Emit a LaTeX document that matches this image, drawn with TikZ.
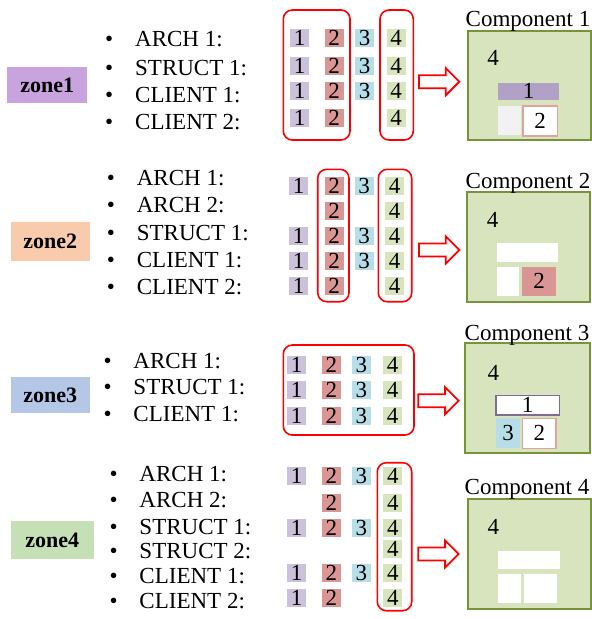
\documentclass[tikz,border=0pt]{standalone}
\usepackage{fontspec}
\setmainfont{Liberation Serif}
\usetikzlibrary{fit}

\definecolor{cA}{HTML}{CCC1DA}
\definecolor{cB}{HTML}{D99694}
\definecolor{cC}{HTML}{B7DEE8}
\definecolor{cD}{HTML}{D7E4BD}
\definecolor{compline}{HTML}{77933C}
\definecolor{barA}{HTML}{B2A1C7}
\definecolor{greybox}{HTML}{F2F2F2}
\definecolor{pinkline}{HTML}{E0A3A1}
\definecolor{purpline}{HTML}{7F6A9B}
\definecolor{zA}{HTML}{C9A3DE}
\definecolor{zB}{HTML}{F8CBAD}
\definecolor{zC}{HTML}{B4C7E7}
\definecolor{zD}{HTML}{C5E0B4}

\begin{document}
\begin{tikzpicture}[x=1pt,y=-1pt,
  base/.style={font=\fontsize{23}{27}\selectfont, inner sep=0pt},
  cellbase/.style={base, minimum width=19pt, minimum height=18pt},
  cell1/.style={cellbase, fill=cA},
  cell2/.style={cellbase, fill=cB},
  cell3/.style={cellbase, fill=cC},
  cell4/.style={cellbase, fill=cD},
  zonebox/.style={inner sep=0pt},
  zonelab/.style={font=\fontsize{22}{25}\selectfont\bfseries, inner sep=0pt},
  itemline/.style={base, anchor=base west},
  grp/.style={draw=red, line width=1.6pt, rounded corners=9pt, inner sep=0pt},
  arrowline/.style={draw=red, fill=white, line width=1.8pt, line join=miter},
  comp/.style={draw=compline, fill=cD, line width=2pt, inner sep=0pt},
  part/.style={inner sep=0pt},
  partlab/.style={base},
  complab/.style={base, anchor=base}
]
\useasboundingbox (0,0) rectangle (592,619);

% ---------- zone labels ----------
\node[zonebox, fill=zA, fit={(7.3,66.7)(87.3,103.3)}] (zone1) {};
\node[zonebox, fill=zB, fit={(10.7,221.7)(90,260.7)}] (zone2) {};
\node[zonebox, fill=zC, fit={(10.7,376.7)(90,413.3)}] (zone3) {};
\node[zonebox, fill=zD, fit={(10.7,521)(94,559.3)}] (zone4) {};
\foreach \z in {1,2,3,4}
  \node[zonelab] (zone\z txt) at (zone\z.center) {zone\z};

% ---------- bullet lists ----------
\newcommand\bulletitem[1]{\makebox[30pt][l]{\textbullet}#1}
\foreach \i/\y/\t in {1/46.8/ARCH 1:, 2/75.1/STRUCT 1:, 3/102.6/CLIENT 1:, 4/129.6/CLIENT 2:}
  \node[itemline] (z1t\i) at (105,\y) {\bulletitem{\t}};
\foreach \i/\y/\t in {1/185.9/ARCH 1:, 2/212.3/ARCH 2:, 3/240.6/STRUCT 1:, 4/267.6/CLIENT 1:, 5/294.3/CLIENT 2:}
  \node[itemline] (z2t\i) at (106.7,\y) {\bulletitem{\t}};
\foreach \i/\y/\t in {1/368.4/ARCH 1:, 2/394.8/STRUCT 1:, 3/421.4/CLIENT 1:}
  \node[itemline] (z3t\i) at (103.3,\y) {\bulletitem{\t}};
\foreach \i/\y/\t in {1/481.8/ARCH 1:, 2/507.3/ARCH 2:, 3/534.8/STRUCT 1:, 4/558.4/STRUCT 2:, 5/583.4/CLIENT 1:, 6/608.4/CLIENT 2:}
  \node[itemline] (z4t\i) at (109.3,\y) {\bulletitem{\t}};

% ---------- digit cells ----------
\foreach \r/\y/\cols in {1/38/{1,2,3,4}, 2/65.5/{1,2,3,4}, 3/91/{1,2,3,4}, 4/117.5/{1,2,4}}
  \foreach \c in \cols {
    \pgfmathsetmacro\xx{{299.7,334,364.5,396}[\c-1]}
    \node[cell\c] (z1-\r-\c) at (\xx,\y) {\c};
  }
\foreach \r/\y/\cols in {1/186/{1,2,3,4}, 2/210.5/{2,4}, 3/236/{1,2,3,4}, 4/261/{1,2,3,4}, 5/286/{1,2,4}}
  \foreach \c in \cols {
    \pgfmathsetmacro\xx{{298.7,334,364,394.5}[\c-1]}
    \node[cell\c] (z2-\r-\c) at (\xx,\y) {\c};
  }
\foreach \r/\y/\cols in {1/364.5/{1,2,3,4}, 2/390/{1,2,3,4}, 3/416/{1,2,3,4}}
  \foreach \c in \cols {
    \pgfmathsetmacro\xx{{296.7,331.3,361.3,392.5}[\c-1]}
    \node[cell\c] (z3-\r-\c) at (\xx,\y) {\c};
  }
\foreach \r/\y/\cols in {1/475.8/{1,2,3,4}, 2/502.5/{2,4}, 3/527.5/{1,2,3,4}, 4/549/{4}, 5/572.5/{1,2,3,4}, 6/597.5/{1,2,4}}
  \foreach \c in \cols {
    \pgfmathsetmacro\xx{{296.7,331.3,361.3,392.8}[\c-1]}
    \node[cell\c] (z4-\r-\c) at (\xx,\y) {\c};
  }

% ---------- red groupings ----------
\node[grp, fit={(283.3,10)(350,140)}] (g1a) {};
\node[grp, fit={(380,10)(413.3,140)}] (g1b) {};
\node[grp, fit={(317.7,169.3)(349,301.7)}] (g2a) {};
\node[grp, fit={(378.3,169.3)(411.7,301.7)}] (g2b) {};
\node[grp, fit={(283.3,345)(414,435)}] (g3a) {};
\node[grp, fit={(377.3,462.7)(411.7,610.7)}] (g4a) {};

% ---------- components ----------
\node[comp, fit={(467.7,31)(591,140)}] (comp1) {};
\node[complab] (c1lab) at (528,26.7) {Component 1};
\node[partlab] (c1four) at (493,58) {4};
\node[part, fill=barA, fit={(497.7,82.7)(559.3,100)}] (c1bar) {};
\node[part, fill=greybox, fit={(497.7,106)(520.7,135)}] (c1left) {};
\node[part, fill=white, draw=pinkline, line width=1.5pt, fit={(523,106)(557.3,136)}] (c1right) {};
\node[partlab] (c1bartxt) at (c1bar.center) {1};
\node[partlab] (c1righttxt) at (c1right.center) {2};

\node[comp, fit={(466.7,191.7)(590,301.7)}] (comp2) {};
\node[complab] (c2lab) at (528,188.3) {Component 2};
\node[partlab] (c2four) at (492.7,220) {4};
\node[part, fill=white, fit={(496.7,243.3)(558.3,261.7)}] (c2bar) {};
\node[part, fill=white, fit={(496.7,266.7)(519.3,296)}] (c2left) {};
\node[part, fill=cB, fit={(522.3,266.7)(555.7,296)}] (c2right) {};
\node[partlab] (c2righttxt) at (c2right.center) {2};

\node[comp, fit={(465,343.3)(590,453.3)}] (comp3) {};
\node[complab] (c3lab) at (527,340) {Component 3};
\node[partlab] (c3four) at (493.3,373.3) {4};
\node[part, fill=white, draw=purpline, line width=1.5pt, fit={(496,395.7)(559.3,415)}] (c3bar) {};
\node[part, fill=cC, fit={(496,418.3)(520,448.3)}] (c3left) {};
\node[part, fill=white, draw=pinkline, line width=1.5pt, fit={(522.7,418.3)(556,448.3)}] (c3right) {};
\node[partlab] (c3bartxt) at (c3bar.center) {1};
\node[partlab] (c3lefttxt) at (c3left.center) {3};
\node[partlab] (c3righttxt) at (c3right.center) {2};

\node[comp, fit={(467.7,499.3)(591,609.3)}] (comp4) {};
\node[complab] (c4lab) at (527,494.3) {Component 4};
\node[partlab] (c4four) at (493.3,526.7) {4};
\node[part, fill=white, fit={(497.7,550.7)(560,569.3)}] (c4bar) {};
\node[part, fill=white, fit={(497.7,574.3)(521,603.3)}] (c4left) {};
\node[part, fill=white, fit={(524,574.3)(556.7,603.3)}] (c4right) {};

% ---------- hollow block arrows (tail at each coordinate) ----------
\coordinate (ar1) at (419,81.7);
\coordinate (ar2) at (419,250);
\coordinate (ar3) at (418.3,400.8);
\coordinate (ar4) at (418.3,554);
\foreach \a in {ar1,ar2,ar3,ar4}
  \draw[arrowline] (\a) ++(0,-6.5) -- ++(26.8,0) -- ++(0,-7) -- ++(13.5,13.5)
    -- ++(-13.5,13.5) -- ++(0,-7) -- ++(-26.8,0) -- cycle;
\end{tikzpicture}
\end{document}
